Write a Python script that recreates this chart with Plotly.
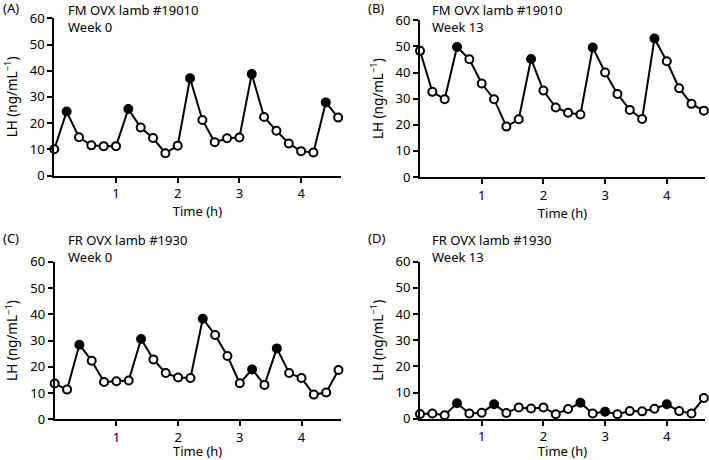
import plotly.graph_objects as go

W, H = 709, 460

time_h = [round(0.2 * i, 1) for i in range(24)]
tick_vals = [1, 2, 3, 4]
y_ticks = [0, 10, 20, 30, 40, 50, 60]

# LH values (ng/mL) per panel
lh_a = [10.0, 24.4, 14.6, 11.5, 11.2, 11.2, 25.4, 18.3, 14.3, 8.5, 11.4, 37.1,
        21.2, 12.7, 14.2, 14.5, 38.7, 22.3, 17.1, 12.2, 9.3, 8.8, 27.9, 22.1]
lh_b = [48.3, 32.6, 29.8, 49.8, 45.1, 35.8, 29.8, 19.3, 22.1, 45.2, 33.1, 26.6,
        24.6, 23.9, 49.6, 40.0, 31.8, 25.7, 22.2, 53.0, 44.3, 34.0, 28.0, 25.4]
lh_c = [13.6, 11.3, 28.4, 22.3, 14.2, 14.5, 14.8, 30.6, 22.8, 17.6, 15.9, 15.7,
        38.3, 32.1, 24.1, 13.7, 19.0, 13.1, 27.0, 17.6, 15.7, 9.4, 10.2, 18.8]
lh_d = [1.8, 2.0, 1.3, 5.9, 2.0, 2.3, 5.5, 2.2, 4.3, 3.9, 4.3, 1.7,
        3.7, 6.1, 2.0, 2.7, 1.7, 2.9, 2.8, 3.8, 5.5, 2.9, 2.0, 7.9]

# pulse peaks (filled circles): 1 = pulse
pulse_a = [0, 1, 0, 0, 0, 0, 1, 0, 0, 0, 0, 1, 0, 0, 0, 0, 1, 0, 0, 0, 0, 0, 1, 0]
pulse_b = [0, 0, 0, 1, 0, 0, 0, 0, 0, 1, 0, 0, 0, 0, 1, 0, 0, 0, 0, 1, 0, 0, 0, 0]
pulse_c = [0, 0, 1, 0, 0, 0, 0, 1, 0, 0, 0, 0, 1, 0, 0, 0, 1, 0, 1, 0, 0, 0, 0, 0]
pulse_d = [0, 0, 0, 1, 0, 0, 1, 0, 0, 0, 0, 0, 0, 1, 0, 1, 0, 0, 0, 0, 1, 0, 0, 0]

panel_labels = ["(A)", "(B)", "(C)", "(D)"]
title_line1 = ["FM OVX lamb #19010", "FM OVX lamb #19010", "FR OVX lamb #1930", "FR OVX lamb #1930"]
title_line2 = ["Week 0", "Week 13", "Week 0", "Week 13"]

FONT = "Noto Sans"


def px_x(p):
    return p / W


def px_y(p):
    return 1 - p / H


# panel geometry in pixels: (x0, x_end, y_bottom, y_top)
geom = [
    (54.3, 340.5, 175.5, 18.3),
    (420.0, 705.0, 177.0, 20.3),
    (54.7, 340.5, 419.3, 261.7),
    (420.0, 705.0, 418.7, 261.7),
]

series = [(lh_a, pulse_a), (lh_b, pulse_b), (lh_c, pulse_c), (lh_d, pulse_d)]

fig = go.Figure()
layout = dict(
    width=W, height=H, margin=dict(l=0, r=0, t=0, b=0, autoexpand=False),
    paper_bgcolor="white", plot_bgcolor="white", showlegend=False,
    font=dict(family=FONT, size=13, color="black"),
)
annotations = []

for i, ((vals, pulses), (x0, x1, yb, yt)) in enumerate(zip(series, geom)):
    n = i + 1
    xa = "x" if n == 1 else f"x{n}"
    ya = "y" if n == 1 else f"y{n}"
    fig.add_trace(go.Scatter(
        x=time_h, y=vals, xaxis=xa, yaxis=ya, mode="lines+markers",
        line=dict(color="black", width=2),
        marker=dict(size=8, color=["black" if p else "white" for p in pulses],
                    line=dict(color="black", width=2)),
        cliponaxis=False,
    ))
    layout["xaxis" if n == 1 else f"xaxis{n}"] = dict(
        domain=[px_x(x0), px_x(x1)], range=[0, (x1 - x0) / 61.7],
        anchor=ya, showline=True, linecolor="black", linewidth=2,
        ticks="outside", ticklen=5, tickwidth=2, tickcolor="black",
        tickvals=tick_vals, showgrid=False, zeroline=False, automargin=False,
        tickfont=dict(size=13),
        title=dict(text="Time (h)", font=dict(size=13), standoff=2),
    )
    layout["yaxis" if n == 1 else f"yaxis{n}"] = dict(
        domain=[px_y(yb), px_y(yt)], range=[0, 60],
        anchor=xa, showline=True, linecolor="black", linewidth=2,
        ticks="outside", ticklen=5, tickwidth=2, tickcolor="black",
        tickvals=y_ticks, showgrid=False, zeroline=False, automargin=False,
        tickfont=dict(size=13),
        title=dict(text="LH (ng/mL<sup>−1</sup>)", font=dict(size=13.5), standoff=9),
    )
    lx = 1 if i % 2 == 0 else 366
    ly = 8 if i < 2 else 238
    annotations.append(dict(text=panel_labels[i], xref="paper", yref="paper",
                            x=px_x(lx), y=px_y(ly), xanchor="left", yanchor="middle",
                            showarrow=False, font=dict(size=13)))
    tx = 67 if i % 2 == 0 else 431
    annotations.append(dict(text=title_line1[i] + "<br>" + title_line2[i],
                            xref="paper", yref="paper", align="left",
                            x=px_x(tx - 1), y=px_y(ly - 9), xanchor="left", yanchor="top",
                            showarrow=False, font=dict(size=13)))

layout["annotations"] = annotations
fig.update_layout(**layout)
fig.write_html(
    "out.html",
    config={"displayModeBar": False},
    post_script=("document.body.style.margin='0';document.body.style.padding='0';"
                 "var d=document.getElementById('{plot_id}');"
                 "d.style.position='fixed';d.style.top='0';d.style.left='0';"),
)
